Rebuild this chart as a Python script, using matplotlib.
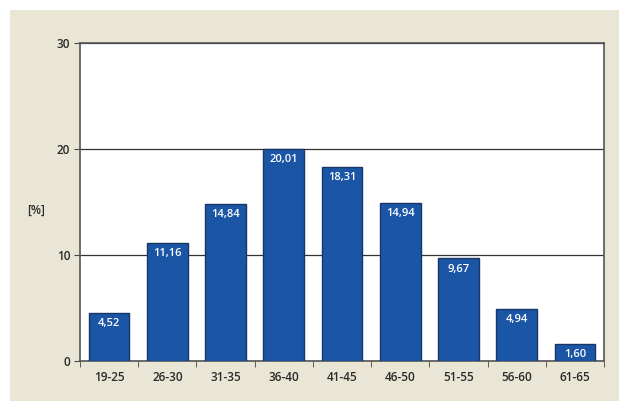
import matplotlib.pyplot as plt
from matplotlib.patches import Rectangle

plt.rcParams["font.family"] = ["Open Sans", "DejaVu Sans"]

# age groups and share of respondents in percent
age_groups = ["19-25", "26-30", "31-35", "36-40", "41-45", "46-50", "51-55", "56-60", "61-65"]
shares = [4.52, 11.16, 14.84, 20.01, 18.31, 14.94, 9.67, 4.94, 1.60]
y_ticks = [0, 10, 20, 30]

W, H = 619, 401
fig = plt.figure(figsize=(W / 100, H / 100), dpi=100)
fig.patch.set_facecolor("white")

# beige panel behind the chart
fig.patches.append(Rectangle((10 / W, 0), 1 - 10 / W, 1 - 10 / H,
                             transform=fig.transFigure, facecolor="#e9e6d6",
                             edgecolor="none", zorder=-10))

ax = fig.add_axes([80 / W, 1 - 361 / H, (604 - 80) / W, (361 - 43) / H])
ax.set_facecolor("white")

x = list(range(len(age_groups)))
bars = ax.bar(x, shares, width=0.7, color="#1b56a6", edgecolor="#183566",
              linewidth=1.0, zorder=3)

for xi, v in zip(x, shares):
    ax.text(xi, v - 0.5, f"{v:.2f}".replace(".", ","), ha="center", va="top",
            color="white", fontsize=8, fontweight="semibold", zorder=4)

ax.set_xlim(-0.5, len(age_groups) - 0.5)
ax.set_ylim(0, 30)
ax.set_yticks(y_ticks)
ax.set_yticklabels([str(t) for t in y_ticks], fontsize=8.5, color="#2a2a2a",
                   fontweight="semibold")
ax.yaxis.grid(True, color="#333333", linewidth=0.9, zorder=1)
ax.set_axisbelow(True)

# category labels centred, tick marks on category boundaries
ax.set_xticks(x)
ax.set_xticklabels(age_groups, fontsize=8.5, color="#2a2a2a", fontweight="semibold")
ax.tick_params(axis="x", length=0, pad=7)
ax.set_xticks([i + 0.5 for i in x[:-1]] + [-0.5, len(age_groups) - 0.5], minor=True)
ax.tick_params(axis="x", which="minor", length=4, direction="out", color="#444444")
ax.tick_params(axis="y", length=4, direction="out", color="#444444", pad=3)

for side in ["left", "bottom", "top", "right"]:
    ax.spines[side].set_color("#555555")
    ax.spines[side].set_linewidth(1.2)

fig.text(36 / W, 1 - 210 / H, "[%]", ha="center", va="center", fontsize=8.5,
         color="#2a2a2a", fontweight="semibold")

fig.savefig("out.png", dpi=100)
